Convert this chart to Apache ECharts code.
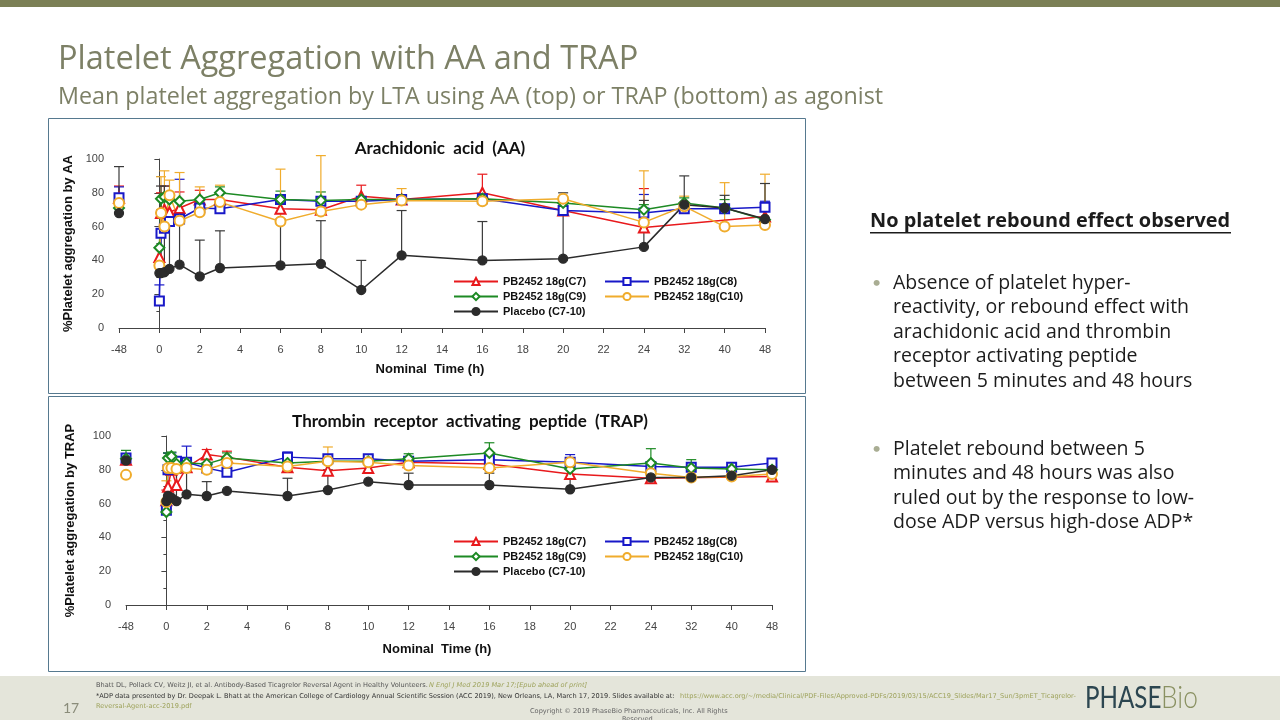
<!DOCTYPE html>
<html>
<head>
<meta charset="utf-8">
<script src="https://cdn.jsdelivr.net/npm/echarts@6/dist/echarts.min.js"></script>
<style>
html,body{margin:0;padding:0;background:#fff;}
#c{width:1280px;height:720px;}
</style>
</head>
<body>
<div id="c"></div>
<script>
// ---- data ----
const TIMES = [-48, 0, 0.08, 0.25, 0.5, 1, 2, 3, 6, 8, 10, 12, 16, 20, 24, 32, 40, 48];
const X_TICK_LABELS = ['-48','0','2','4','6','8','10','12','14','16','18','20','22','24','32','40','48'];
const SERIES_NAMES = ['PB2452 18g(C7)', 'PB2452 18g(C8)', 'PB2452 18g(C9)', 'PB2452 18g(C10)', 'Placebo (C7-10)'];

// Arachidonic acid (AA) means
const AA_C7  = [77, 42, 68, 70, 68.5, 71, 76, 76, 70.5, 70, 78, 76, 80, 69.5, 59.5, null, null, 66];
const AA_C8  = [77, 16, 56, 59, 63, 64.5, 71, 70.5, 76, 75, 75, 76, 76.5, 69.5, 68, 70.5, 70.5, 71.5];
const AA_C9  = [71, 47.5, 76.5, 77.5, 76, 75, 76, 80, 76, 75.5, 76, 76, 76.5, 74, 70, 74, 71, 64];
const AA_C10 = [74, 37, 68, 60, 78.5, 63.5, 68.5, 74.5, 63, 69, 73, 75.5, 75, 76.5, 62.5, 72, 60, 61];
const AA_PBO = [68, 32.5, 32.5, 33, 35, 37.5, 30.5, 35.5, 37, 38, 22.5, 43, 40, 41, 48, 73, 71, 64.5];
// AA upper error bar ends
const AA_C7_UP  = [84, null, 80, 84, null, 80.5, 81.5, null, null, null, 84.5, null, 91, null, 82.5, null, null, null];
const AA_C8_UP  = [83.5, 25.5, null, null, null, 88, null, null, null, null, 77, 78, null, 72, 79, null, null, 75];
const AA_C9_UP  = [null, null, null, null, null, null, null, 83.5, 81, 80.5, null, null, null, null, 73, 77, 76, null];
const AA_C10_UP = [null, null, 89.5, 93, 87.5, 92, 83.5, 84.5, 94, 102, null, 82.5, null, null, 93, 78, 86, 91];
const AA_PBO_UP = [95.5, null, 84, 84, 67, 64, 52, 57.5, 64.5, 63.5, 40, 69.5, 63, 80, 75.5, 90, 78.5, 85.5];

// Thrombin receptor activating peptide (TRAP) means
const TR_C7  = [86, 62, 70, 80, 71, 81.5, 89, 87.5, 81.5, 79.5, 81, 84.5, 83.5, 77.5, 75, null, null, 76];
const TR_C8  = [87, 56, 80, 85, 85, 84.5, 81, 78.5, 87.5, 86.5, 86.5, 85, 86, 84.5, 82, 81.5, 81.5, 84];
const TR_C9  = [86.5, 55, 87, 88, 83.5, 84, 83.5, 87, 84, 85, 85, 86.5, 90, 80.5, 84, 81, 80.5, 80];
const TR_C10 = [77, 61, 81, 81, 80.5, 81, 80, 84, 82, 85, 84.5, 82.5, 81, 84.5, 78, 75.5, 76, 77.5];
const TR_PBO = [85.5, 61.5, 64.5, 63.5, 61.5, 65.5, 64.5, 67.5, 64.5, 68, 73, 71, 71, 68.5, 75.5, 75.5, 76.5, 80];
// TRAP upper error bar ends
const TR_C7_UP  = [null, 68, null, null, 78, null, 92, 91, null, null, null, null, null, null, null, null, null, null];
const TR_C8_UP  = [null, null, 90, 90, null, 94, null, null, 90.5, null, 88.5, null, null, 89, null, null, null, 85.5];
const TR_C9_UP  = [91.5, 57, 90, 90.5, null, null, null, 90, null, null, null, 89.5, 96, null, 92.5, 86, null, null];
const TR_C10_UP = [null, 73.5, null, null, null, null, null, null, null, 93.5, null, null, null, 87, null, null, null, null];
const TR_PBO_UP = [null, null, null, null, 78, 83.5, 73, null, 75, 80, null, 78, 78, 82.5, null, null, null, null];

// ---- styling ----
const COLORS  = ['#e8191c', '#1818c8', '#1d8a24', '#f0ac2c', '#2b2b2b'];
const SYMBOLS = ['emptyTriangle', 'emptyRect', 'emptyDiamond', 'emptyCircle', 'circle'];
const SYMSIZE = [10, 9, 10, 10, 9];
const FONT = 'Liberation Sans, Arial, sans-serif';
const SLIDE_FONT = '"Open Sans", Lato, sans-serif';

// broken time axis: -48 one step before 0, 0..24 linear, 32/40/48 one step (2 units) apart
function axisPos(h) {
  if (h < 0) return -2;
  if (h <= 24) return h;
  return 24 + (h - 24) / 4;
}

function lineSeries(name, idx, means, gi) {
  const data = [];
  TIMES.forEach((t, i) => {
    if (means[i] == null) return;
    data.push([axisPos(t), means[i]]);
    if (t < 0) data.push([axisPos(t) + 1, '-']); // baseline not joined
  });
  return {
    type: 'line', name: name, xAxisIndex: gi, yAxisIndex: gi,
    data: data, symbol: SYMBOLS[idx], symbolSize: SYMSIZE[idx],
    connectNulls: false, z: 3,
    lineStyle: { color: COLORS[idx], width: 1.5 },
    itemStyle: { color: COLORS[idx], borderColor: COLORS[idx], borderWidth: 1.3 },
    emphasis: { disabled: true }, animation: false
  };
}

function errSeries(name, idx, means, ups, gi) {
  const data = [];
  TIMES.forEach((t, i) => {
    if (means[i] == null || ups[i] == null) return;
    data.push([axisPos(t), means[i], ups[i]]);
  });
  const col = COLORS[idx] === '#2b2b2b' ? '#3a3a3a' : COLORS[idx];
  return {
    type: 'custom', name: name + ' err', xAxisIndex: gi, yAxisIndex: gi, z: 2,
    data: data, animation: false, silent: true, clip: false,
    encode: { x: 0, y: [1, 2] },
    renderItem: function (params, api) {
      const x = api.value(0), m = api.value(1), u = api.value(2);
      const p0 = api.coord([x, m]), p1 = api.coord([x, u]);
      return { type: 'group', children: [
        { type: 'line', shape: { x1: p0[0], y1: p0[1], x2: p1[0], y2: p1[1] }, style: { stroke: col, lineWidth: 1.2 } },
        { type: 'line', shape: { x1: p1[0] - 5, y1: p1[1], x2: p1[0] + 5, y2: p1[1] }, style: { stroke: col, lineWidth: 1.2 } }
      ]};
    }
  };
}

const AA_MEANS = [AA_C7, AA_C8, AA_C9, AA_C10, AA_PBO];
const AA_UPS   = [AA_C7_UP, AA_C8_UP, AA_C9_UP, AA_C10_UP, AA_PBO_UP];
const TR_MEANS = [TR_C7, TR_C8, TR_C9, TR_C10, TR_PBO];
const TR_UPS   = [TR_C7_UP, TR_C8_UP, TR_C9_UP, TR_C10_UP, TR_PBO_UP];

const series = [];
[[AA_MEANS, AA_UPS], [TR_MEANS, TR_UPS]].forEach((pair, gi) => {
  SERIES_NAMES.forEach((n, k) => series.push(errSeries(n, k, pair[0][k], pair[1][k], gi)));
  SERIES_NAMES.forEach((n, k) => series.push(lineSeries(n, k, pair[0][k], gi)));
});

function xAxis(gi, nameGap) {
  return {
    type: 'value', gridIndex: gi, min: -2, max: 30, interval: 2, offset: 9,
    name: 'Nominal  Time (h)', nameLocation: 'middle', nameGap: nameGap,
    nameTextStyle: { fontFamily: FONT, fontWeight: 'bold', fontSize: 13, color: '#111', padding: [0, 24, 0, 0] },
    axisLine: { lineStyle: { color: '#444', width: 1 } },
    axisTick: { length: 5, lineStyle: { color: '#444' } },
    axisLabel: { fontFamily: FONT, fontSize: 11, color: '#444', margin: 7,
      formatter: v => X_TICK_LABELS[Math.round((v + 2) / 2)] },
    splitLine: { show: false }
  };
}
function yAxis(gi, name, nameGap) {
  return {
    type: 'value', gridIndex: gi, min: 0, max: 100, interval: 20, offset: 9,
    name: name, nameLocation: 'middle', nameGap: nameGap,
    nameTextStyle: { fontFamily: FONT, fontWeight: 'bold', fontSize: 13, color: '#111' },
    axisLine: { show: true, lineStyle: { color: '#444', width: 1 } },
    axisTick: { show: true, length: 5, lineStyle: { color: '#444' } },
    minorTick: { show: true, splitNumber: 2, length: 3, lineStyle: { color: '#444' } },
    axisLabel: { fontFamily: FONT, fontSize: 11, color: '#444', margin: 6 },
    splitLine: { show: false }
  };
}
function legend(names, left, top) {
  return {
    orient: 'vertical', left: left, top: top, data: names,
    itemWidth: 44, itemHeight: 9, itemGap: 4, padding: 0,
    selectedMode: false,
    textStyle: { fontFamily: FONT, fontWeight: 'bold', fontSize: 11, color: '#111', lineHeight: 11 }
  };
}

const TEXT_DARK = '#1c1c1c';
const FOOT = '6.6px "DejaVu Sans", sans-serif';
const LINK = '#9ea35c';
const graphic = [
  { type: 'rect', shape: { x: 0, y: 0, width: 1280, height: 7 }, style: { fill: '#7b7f55' } },
  { type: 'text', x: 58, y: 60, style: { text: 'Platelet Aggregation with AA and TRAP', font: '32.5px ' + SLIDE_FONT, fill: '#7d8066', verticalAlign: 'middle' } },
  { type: 'text', x: 58, y: 97, style: { text: 'Mean platelet aggregation by LTA using AA (top) or TRAP (bottom) as agonist', font: '23.3px ' + SLIDE_FONT, fill: '#7d8066', verticalAlign: 'middle' } },
  { type: 'rect', shape: { x: 48.5, y: 118.5, width: 757, height: 275 }, style: { fill: 'none', stroke: '#56798f', lineWidth: 1 } },
  { type: 'rect', shape: { x: 48.5, y: 396.5, width: 757, height: 275 }, style: { fill: 'none', stroke: '#56798f', lineWidth: 1 } },
  { type: 'text', x: 440, y: 149, style: { text: 'Arachidonic  acid  (AA)', font: 'bold 17px Lato, sans-serif', fill: '#111', align: 'center', verticalAlign: 'middle' } },
  { type: 'text', x: 470, y: 422, style: { text: 'Thrombin  receptor  activating  peptide  (TRAP)', font: 'bold 17px Lato, sans-serif', fill: '#111', align: 'center', verticalAlign: 'middle' } },
  // right panel
  { type: 'text', x: 870, y: 221, style: { text: 'No platelet rebound effect observed', font: 'bold 19.9px ' + SLIDE_FONT, fill: TEXT_DARK, verticalAlign: 'middle' } },
  { type: 'rect', shape: { x: 870, y: 232, width: 361, height: 1.5 }, style: { fill: TEXT_DARK } },
  { type: 'text', x: 872, y: 283, style: { text: '•', font: '16px Lato, sans-serif', fill: '#a9ad93', verticalAlign: 'middle' } },
  { type: 'text', x: 893, y: 271, style: { text: 'Absence of platelet hyper-\nreactivity, or rebound effect with\narachidonic acid and thrombin\nreceptor activating peptide\nbetween 5 minutes and 48 hours', font: '19.5px ' + SLIDE_FONT, fill: TEXT_DARK, lineHeight: 24.5, verticalAlign: 'top' } },
  { type: 'text', x: 872, y: 449, style: { text: '•', font: '16px Lato, sans-serif', fill: '#a9ad93', verticalAlign: 'middle' } },
  { type: 'text', x: 893, y: 437, style: { text: 'Platelet rebound between 5\nminutes and 48 hours was also\nruled out by the response to low-\ndose ADP versus high-dose ADP*', font: '19.5px ' + SLIDE_FONT, fill: TEXT_DARK, lineHeight: 24.5, verticalAlign: 'top' } },
  // footer
  { type: 'rect', shape: { x: 0, y: 676, width: 1280, height: 44 }, style: { fill: '#e4e5da' } },
  { type: 'text', x: 63, y: 708, style: { text: '17', font: '14px Lato, sans-serif', fill: '#8a8c7a', verticalAlign: 'middle' } },
  { type: 'text', x: 96, y: 685, style: { text: 'Bhatt DL, Pollack CV, Weitz JI, et al. Antibody-Based Ticagrelor Reversal Agent in Healthy Volunteers. ', font: FOOT, fill: '#555', verticalAlign: 'middle' } },
  { type: 'text', x: 429, y: 685, style: { text: 'N Engl J Med 2019 Mar 17;[Epub ahead of print]', font: 'italic ' + FOOT, fill: LINK, verticalAlign: 'middle' } },
  { type: 'text', x: 96, y: 696, style: { text: '*ADP data presented by Dr. Deepak L. Bhatt at the American College of Cardiology Annual Scientific Session (ACC 2019), New Orleans, LA, March 17, 2019. Slides available at: ', font: FOOT, fill: '#333', verticalAlign: 'middle' } },
  { type: 'text', x: 680, y: 696, style: { text: 'https://www.acc.org/~/media/Clinical/PDF-Files/Approved-PDFs/2019/03/15/ACC19_Slides/Mar17_Sun/3pmET_Ticagrelor-', font: FOOT, fill: LINK, verticalAlign: 'middle' } },
  { type: 'text', x: 96, y: 706, style: { text: 'Reversal-Agent-acc-2019.pdf', font: FOOT, fill: LINK, verticalAlign: 'middle' } },
  { type: 'text', x: 530, y: 711, style: { text: 'Copyright © 2019 PhaseBio Pharmaceuticals, Inc. All Rights', font: FOOT, fill: '#666', verticalAlign: 'middle' } },
  { type: 'text', x: 622, y: 719, style: { text: 'Reserved', font: FOOT, fill: '#666', verticalAlign: 'middle' } },
  { type: 'text', x: 1085, y: 698, scaleX: 0.78, style: { text: 'PHASE', font: '31px Lato, sans-serif', fill: '#2c4650', verticalAlign: 'middle' } },
  { type: 'text', x: 1161, y: 698, scaleX: 0.85, style: { text: 'Bio', font: '300 31px Lato, sans-serif', fill: '#8a9162', verticalAlign: 'middle' } }
];

const option = {
  backgroundColor: '#ffffff',
  animation: false,
  grid: [
    { left: 119, top: 159, width: 646, height: 169 },
    { left: 126, top: 436, width: 646, height: 169 }
  ],
  xAxis: [xAxis(0, 26), xAxis(1, 29)],
  yAxis: [yAxis(0, '%Platelet aggregation by AA', 33), yAxis(1, '%Platelet aggregation by TRAP', 40)],
  legend: [
    legend([SERIES_NAMES[0], SERIES_NAMES[2], SERIES_NAMES[4]], 453, 276),
    legend([SERIES_NAMES[1], SERIES_NAMES[3]], 604, 276),
    legend([SERIES_NAMES[0], SERIES_NAMES[2], SERIES_NAMES[4]], 453, 536),
    legend([SERIES_NAMES[1], SERIES_NAMES[3]], 604, 536)
  ],
  graphic: graphic,
  series: series
};

const chart = echarts.init(document.getElementById('c'), null, { renderer: 'canvas' });
chart.setOption(option);
</script>
</body>
</html>
